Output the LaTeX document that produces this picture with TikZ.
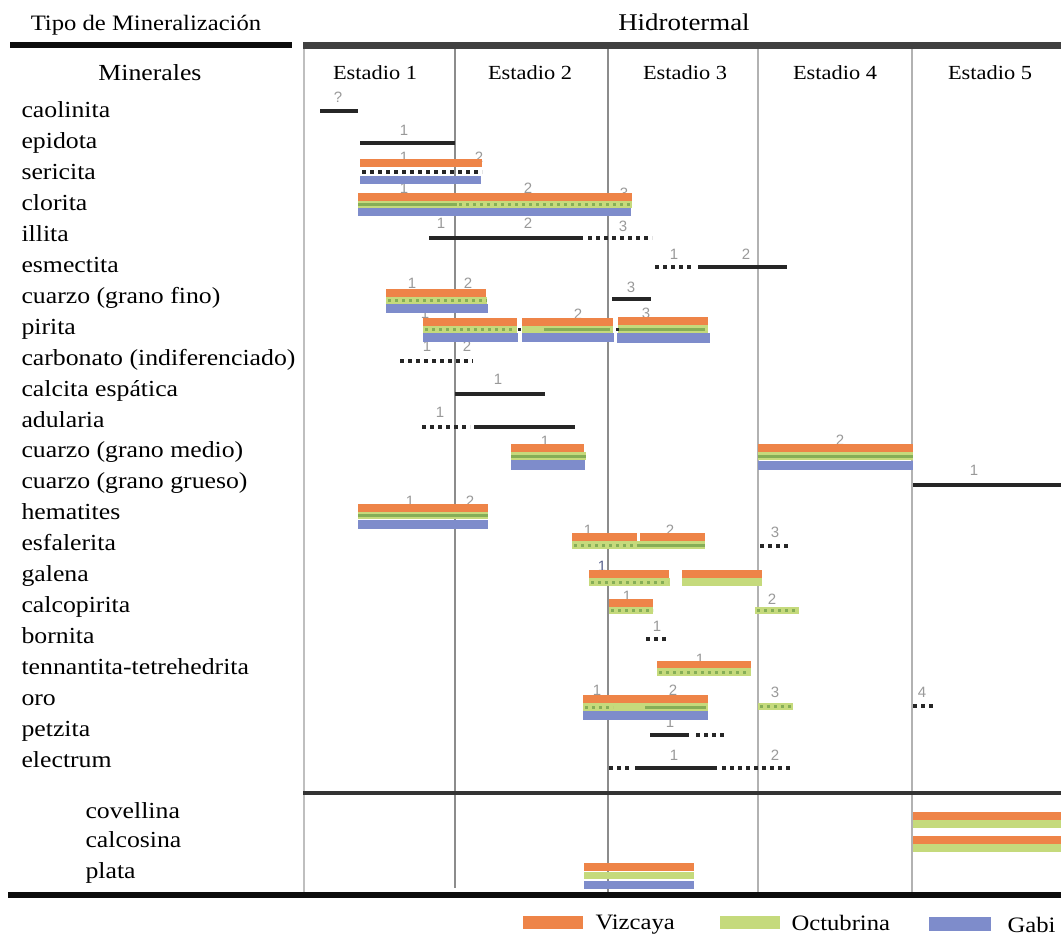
\documentclass[tikz,border=0pt]{standalone}
\usepackage{fontspec}
\setmainfont{Liberation Serif}[FakeStretch=1.12]
\newfontfamily\numfont{Liberation Sans}
\usepackage{tikz}
\definecolor{vizcaya}{HTML}{EE8448}
\definecolor{octubrina}{HTML}{C5DA7C}
\definecolor{octuosc}{HTML}{86AE57}
\definecolor{gabi}{HTML}{7E8CCB}

\begin{document}
\begin{tikzpicture} [x = 1pt, y = -1pt,
		orng/.style = {fill = vizcaya},
		grn/.style = {fill = octubrina},
		blu/.style = {fill = gabi},
		ln/.style = {line width = 3.5pt, black!85},
		dt/.style = {ln, dash pattern = on 4pt off 4pt},
		gln/.style = {line width = 3pt, octuosc},
		gdt/.style = {gln, dash pattern = on 3pt off 4pt},
		num/.style = {font = \numfont\fontsize{15}{15}\selectfont, text = black!40},
		lbl/.style = {anchor = base west, font = \fontsize{23}{25}\selectfont},
		hdr/.style = {anchor = base, font = \fontsize{23}{25}\selectfont},
		stg/.style = {anchor = base, font = \fontsize{20}{22}\selectfont},
		sep/.style = {line width = 1.2pt, black!45}]
		\useasboundingbox (0,0) rectangle (1061,937);
		% encabezado
		\node [hdr, font = \fontsize{22}{24}\selectfont] (tipo) at (146,30) {Tipo de Mineralización};
		\node [hdr, font = \fontsize{24}{26}\selectfont] (hidro) at (684,30) {Hidrotermal};
		\node [hdr] (minerales) at (150,80) {Minerales};
		\node [stg] (e1) at (375,79) {Estadio 1};
		\node [stg] (e2) at (530,79) {Estadio 2};
		\node [stg] (e3) at (685,79) {Estadio 3};
		\node [stg] (e4) at (835,79) {Estadio 4};
		\node [stg] (e5) at (990,79) {Estadio 5};
		% lineas de la tabla
		\draw [sep, black!25] (304,48) -- (304,892);
		\draw [sep] (455,48) -- (455,888);
		\draw [sep] (608,48) -- (608,892);
		\draw [sep, black!30] (758,48) -- (758,892);
		\draw [sep, black!30] (912,48) -- (912,892);
		\draw [line width = 6pt, black!95] (10,45) -- (292,45);
		\draw [line width = 7pt, black!75] (303,45) -- (1061,45);
		\draw [line width = 3.5pt, black!80] (303,793) -- (1061,793);
		\draw [line width = 6.5pt, black!95] (8,895) -- (1061,895);
		% minerales
		\node [lbl] (caolinita) at (18,117) {caolinita};
		\node [lbl] (epidota) at (18,148) {epidota};
		\node [lbl] (sericita) at (18,179) {sericita};
		\node [lbl] (clorita) at (18,210) {clorita};
		\node [lbl] (illita) at (18,241) {illita};
		\node [lbl] (esmectita) at (18,272) {esmectita};
		\node [lbl] (cuarzofino) at (18,303) {cuarzo (grano fino)};
		\node [lbl] (pirita) at (18,334) {pirita};
		\node [lbl] (carbonato) at (18,365) {carbonato (indiferenciado)};
		\node [lbl] (calcita) at (18,396) {calcita espática};
		\node [lbl] (adularia) at (18,427) {adularia};
		\node [lbl] (cuarzomedio) at (18,457) {cuarzo (grano medio)};
		\node [lbl] (cuarzogrueso) at (18,488) {cuarzo (grano grueso)};
		\node [lbl] (hematites) at (18,519) {hematites};
		\node [lbl] (esfalerita) at (18,550) {esfalerita};
		\node [lbl] (galena) at (18,581) {galena};
		\node [lbl] (calcopirita) at (18,612) {calcopirita};
		\node [lbl] (bornita) at (18,643) {bornita};
		\node [lbl] (tennantita) at (18,674) {tennantita-tetrehedrita};
		\node [lbl] (oro) at (18,705) {oro};
		\node [lbl] (petzita) at (18,736) {petzita};
		\node [lbl] (electrum) at (18,767) {electrum};
		\node [lbl] (covellina) at (82,818) {covellina};
		\node [lbl] (calcosina) at (82,847) {calcosina};
		\node [lbl] (plata) at (82,878) {plata};
		% numeros de pulso
		\node [num] at (338,97) {?};
		\node [num] at (404,130) {1};
		\node [num] at (404,157) {1};
		\node [num] at (479,157) {2};
		\node [num] at (404,188) {1};
		\node [num] at (528,188) {2};
		\node [num] at (624,193) {3};
		\node [num] at (441,223) {1};
		\node [num] at (528,223) {2};
		\node [num] at (623,226) {3};
		\node [num] at (674,254) {1};
		\node [num] at (746,254) {2};
		\node [num] at (412,283) {1};
		\node [num] at (468,283) {2};
		\node [num] at (631,287) {3};
		\node [num] at (425,313) {1};
		\node [num] at (578,314) {2};
		\node [num] at (646,313) {3};
		\node [num] at (427,346) {1};
		\node [num] at (467,346) {2};
		\node [num] at (498,379) {1};
		\node [num] at (440,412) {1};
		\node [num] at (545,441) {1};
		\node [num] at (840,440) {2};
		\node [num] at (974,470) {1};
		\node [num] at (410,501) {1};
		\node [num] at (470,501) {2};
		\node [num] at (588,530) {1};
		\node [num] at (670,530) {2};
		\node [num] at (775,532) {3};
		\node [num, text = gabi!70!black] at (602,566) {1};
		\node [num] at (627,596) {1};
		\node [num] at (772,599) {2};
		\node [num] at (657,626) {1};
		\node [num] at (700,659) {1};
		\node [num] at (597,690) {1};
		\node [num] at (673,690) {2};
		\node [num] at (775,692) {3};
		\node [num] at (922,692) {4};
		\node [num] at (670,722) {1};
		\node [num] at (674,755) {1};
		\node [num] at (775,755) {2};
		% caolinita, epidota
		\draw [ln] (320,111) -- (358,111);
		\draw [ln] (360,143) -- (455,143);
		% sericita
		\fill [orng] (360,159) rectangle (482,167);
		\draw [dt] (362,172) -- (482,172);
		\fill [blu] (360,176) rectangle (481,184);
		% clorita
		\fill [orng] (358,193) rectangle (632,201);
		\fill [grn] (358,201) rectangle (632,208);
		\draw [gln] (358,204.5) -- (457,204.5);
		\draw [gdt] (459,204.5) -- (632,204.5);
		\fill [blu] (358,208) rectangle (631,216);
		% illita, esmectita
		\draw [ln] (429,238) -- (583,238);
		\draw [dt] (588,238) -- (652,238);
		\draw [dt] (655,267) -- (693,267);
		\draw [ln] (698,267) -- (787,267);
		% cuarzo (grano fino)
		\fill [orng] (386,289) rectangle (486,297);
		\fill [grn] (386,297) rectangle (487,304);
		\draw [gdt] (388,300.5) -- (487,300.5);
		\fill [blu] (386,304) rectangle (488,313);
		\draw [ln] (612,299) -- (651,299);
		% pirita
		\fill [orng] (423,318) rectangle (517,326);
		\fill [grn] (423,326) rectangle (517,333);
		\draw [gdt] (425,329.5) -- (515,329.5);
		\fill [blu] (423,333) rectangle (518,342);
		\fill [orng] (522,318) rectangle (613,326);
		\fill [grn] (522,326) rectangle (613,333);
		\draw [gln] (544,329.5) -- (610,329.5);
		\fill [blu] (522,333) rectangle (614,342);
		\fill [orng] (618,317) rectangle (708,325);
		\fill [grn] (618,325) rectangle (708,333);
		\draw [gln] (619,329) -- (705,329);
		\fill [blu] (617,333) rectangle (710,343);
		\fill [black!85] (517.5,328) rectangle (520.5,331);
		\fill [black!85] (615.5,328) rectangle (618.5,331);
		% carbonato, calcita, adularia
		\draw [dt] (400,361) -- (473,361);
		\draw [ln] (455,394) -- (545,394);
		\draw [dt] (422,427) -- (470,427);
		\draw [ln] (474,427) -- (575,427);
		% cuarzo (grano medio)
		\fill [orng] (511,444) rectangle (584,452);
		\fill [grn] (511,452) rectangle (586,460);
		\draw [gln] (511,456) -- (586,456);
		\fill [blu] (511,460) rectangle (585,470);
		\fill [orng] (758,444) rectangle (913,452);
		\fill [grn] (758,452) rectangle (913,460);
		\draw [gln] (758,456) -- (913,456);
		\fill [blu] (758,461) rectangle (913,470);
		% cuarzo (grano grueso)
		\draw [ln] (913,485) -- (1061,485);
		% hematites
		\fill [orng] (358,504) rectangle (488,512);
		\fill [grn] (358,512) rectangle (488,519);
		\draw [gln] (358,515.5) -- (488,515.5);
		\fill [blu] (358,520) rectangle (488,529);
		% esfalerita
		\fill [orng] (572,533) rectangle (637,541);
		\fill [orng] (640,533) rectangle (705,541);
		\fill [grn] (572,541) rectangle (705,549);
		\draw [gdt] (574,545) -- (636,545);
		\draw [gln] (637,545) -- (705,545);
		\draw [dt] (760,546) -- (790,546);
		% galena
		\fill [orng] (589,570) rectangle (669,578);
		\fill [grn] (589,578) rectangle (670,586);
		\draw [gdt] (591,582) -- (668,582);
		\fill [orng] (682,570) rectangle (762,578);
		\fill [grn] (682,578) rectangle (762,586);
		% calcopirita
		\fill [orng] (609,599) rectangle (653,607);
		\fill [grn] (609,607) rectangle (653,614);
		\draw [gdt] (611,610.5) -- (653,610.5);
		\fill [grn] (755,607) rectangle (799,614);
		\draw [gdt] (757,610.5) -- (797,610.5);
		% bornita
		\draw [dt] (646,639) -- (668,639);
		% tennantita-tetrehedrita
		\fill [orng] (657,661) rectangle (751,668);
		\fill [grn] (657,668) rectangle (751,676);
		\draw [gdt] (659,672) -- (749,672);
		% oro
		\fill [orng] (583,695) rectangle (708,703);
		\fill [grn] (583,703) rectangle (708,711);
		\draw [gdt] (585,707) -- (613,707);
		\draw [gln] (645,707) -- (706,707);
		\fill [blu] (583,711) rectangle (708,720);
		\fill [grn] (758,703) rectangle (793,710);
		\draw [gdt] (760,706.5) -- (793,706.5);
		\draw [dt] (913,706) -- (933,706);
		% petzita, electrum
		\draw [ln] (650,735) -- (689,735);
		\draw [dt] (696,735) -- (724,735);
		\draw [dt] (609,768) -- (630,768);
		\draw [ln] (635,768) -- (717,768);
		\draw [dt] (722,768) -- (790,768);
		% supergenico
		\fill [orng] (913,812) rectangle (1061,820);
		\fill [grn] (913,820) rectangle (1061,828);
		\fill [orng] (913,836) rectangle (1061,844);
		\fill [grn] (913,844) rectangle (1061,852);
		\fill [orng] (584,863) rectangle (694,871);
		\fill [grn] (584,872) rectangle (694,879);
		\fill [blu] (584,881) rectangle (694,889);
		% leyenda
		\fill [orng] (523,916) rectangle (583,929);
		\node [lbl, font = \fontsize{22}{24}\selectfont] (vizcaya) at (592,929) {Vizcaya};
		\fill [grn] (720,916) rectangle (780,929);
		\node [lbl, font = \fontsize{22}{24}\selectfont] (octubrina) at (788,930) {Octubrina};
		\fill [blu] (929,917) rectangle (991,931);
		\node [lbl, font = \fontsize{22}{24}\selectfont] (gabi) at (1004,932) {Gabi};
	\end{tikzpicture}
\end{document}
